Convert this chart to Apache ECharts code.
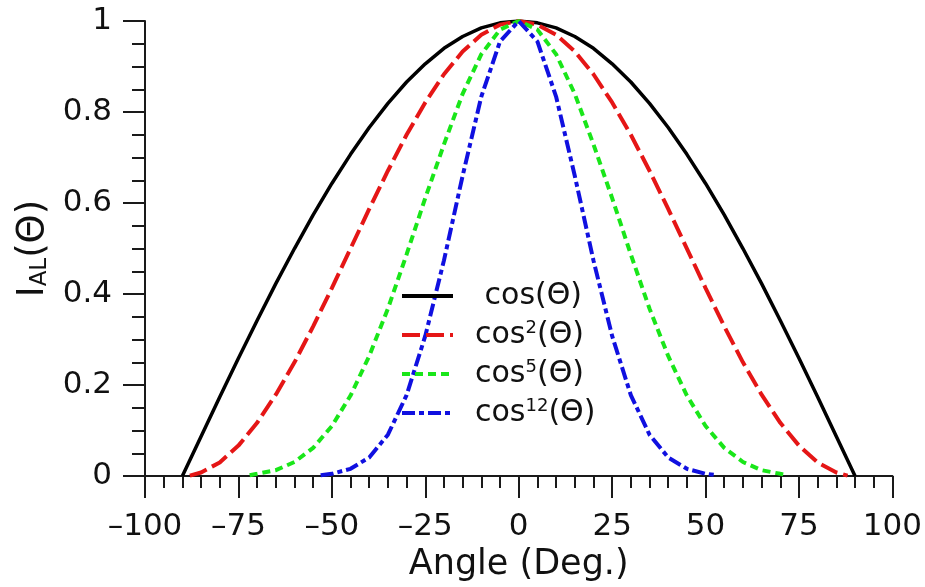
<!DOCTYPE html>
<html><head><meta charset="utf-8">
<script src="https://cdn.jsdelivr.net/npm/echarts@6/dist/echarts.min.js"></script>
<style>html,body{margin:0;padding:0;background:#fff}#c{width:925px;height:587px}</style>
</head><body><div id="c"></div>
<script>
// angles (deg) and values
const xCos1 = [-90,-85,-80,-75,-70,-65,-60,-55,-50,-45,-40,-35,-30,-25,-20,-15,-10,-5,0,5,10,15,20,25,30,35,40,45,50,55,60,65,70,75,80,85,90];
const yCos1 = [0,0.087,0.174,0.259,0.342,0.423,0.5,0.574,0.643,0.707,0.766,0.819,0.866,0.906,0.94,0.966,0.985,0.996,1,0.996,0.985,0.966,0.94,0.906,0.866,0.819,0.766,0.707,0.643,0.574,0.5,0.423,0.342,0.259,0.174,0.087,0];
const xCos2 = [-88,-85,-80,-75,-70,-65,-60,-55,-50,-45,-40,-35,-30,-25,-20,-15,-10,-5,0,5,10,15,20,25,30,35,40,45,50,55,60,65,70,75,80,85,88];
const yCos2 = [0.001,0.008,0.03,0.067,0.117,0.179,0.25,0.329,0.413,0.5,0.587,0.671,0.75,0.821,0.883,0.933,0.97,0.992,1,0.992,0.97,0.933,0.883,0.821,0.75,0.671,0.587,0.5,0.413,0.329,0.25,0.179,0.117,0.067,0.03,0.008,0.001];
const xCos5 = [-72,-70,-65,-60,-55,-50,-45,-40,-35,-30,-25,-20,-15,-10,-5,0,5,10,15,20,25,30,35,40,45,50,55,60,65,70,72];
const yCos5 = [0.002,0.005,0.013,0.031,0.062,0.11,0.177,0.264,0.368,0.487,0.611,0.729,0.84,0.927,0.981,1,0.981,0.927,0.84,0.729,0.611,0.487,0.368,0.264,0.177,0.11,0.062,0.031,0.013,0.005,0.002];
const xCos12 = [-53,-50,-45,-40,-35,-30,-25,-20,-15,-10,-5,0,5,10,15,20,25,30,35,40,45,50,53];
const yCos12 = [0.002,0.005,0.016,0.041,0.091,0.178,0.308,0.474,0.66,0.834,0.955,1,0.955,0.834,0.66,0.474,0.308,0.178,0.091,0.041,0.016,0.005,0.002];
const seriesNames = ['cos1','cos2','cos5','cos12'];
const xTicks = [-100,-75,-50,-25,0,25,50,75,100];
const yTicks = [0,0.2,0.4,0.6,0.8,1];

const pair = (xs, ys) => xs.map((x, i) => [x, ys[i]]);
const FONT = 'DejaVu Sans';
const axisCol = '#1a1a1a';

const legendText = {
  cos1: '{a| cos(Θ)}',
  cos2: '{a|cos}{sup|2}{a|(Θ)}',
  cos5: '{a|cos}{sup|5}{a|(Θ)}',
  cos12: '{a|cos}{sup|12}{a|(Θ)}'
};

const chart = echarts.init(document.getElementById('c'), null, {renderer: 'canvas'});
chart.setOption({
  animation: false,
  backgroundColor: '#fff',
  grid: {left: 145, right: 28, top: 21, bottom: 107, containLabel: false},
  xAxis: {
    type: 'value', min: xTicks[0], max: xTicks[xTicks.length - 1], interval: 25,
    name: 'Angle (Deg.)', nameLocation: 'middle', nameGap: 68,
    nameTextStyle: {fontFamily: FONT, fontSize: 35, color: '#111'},
    axisLine: {show: true, onZero: false, lineStyle: {color: axisCol, width: 2}},
    axisTick: {show: true, inside: false, length: 22, lineStyle: {color: axisCol, width: 2}},
    minorTick: {show: true, splitNumber: 5, length: 12, lineStyle: {color: axisCol, width: 2}},
    splitLine: {show: false},
    axisLabel: {fontFamily: FONT, fontSize: 31, color: '#111', margin: 35,
      formatter: v => String(v).replace('-', '–')}
  },
  yAxis: {
    type: 'value', min: yTicks[0], max: yTicks[yTicks.length - 1], interval: 0.2,
    name: '{a|I}{sub|AL}{a|(Θ)}', nameLocation: 'middle', nameGap: 93, nameRotate: 90,
    nameTextStyle: {fontFamily: FONT, fontSize: 37, color: '#111',
      rich: {a: {fontFamily: FONT, fontSize: 37, color: '#111'},
             sub: {fontFamily: FONT, fontSize: 23, color: '#111', verticalAlign: 'bottom', padding: [14, 0, 0, 0]}}},
    axisLine: {show: true, onZero: false, lineStyle: {color: axisCol, width: 2}},
    axisTick: {show: true, inside: false, length: 22, lineStyle: {color: axisCol, width: 2}},
    minorTick: {show: true, splitNumber: 4, length: 13, lineStyle: {color: axisCol, width: 2}},
    splitLine: {show: false},
    axisLabel: {fontFamily: FONT, fontSize: 31, color: '#111', margin: 33}
  },
  legend: {
    orient: 'vertical', left: 400, top: 281, padding: 0, itemWidth: 51, itemHeight: 14, itemGap: 8,
    data: seriesNames,
    formatter: n => legendText[n],
    itemStyle: {opacity: 0},
    lineStyle: {width: 4},
    textStyle: {fontFamily: FONT, fontSize: 30, color: '#111', padding: [0, 0, 0, 17],
      rich: {a: {fontFamily: FONT, fontSize: 30, color: '#111', lineHeight: 32},
             sup: {fontFamily: FONT, fontSize: 18, color: '#111', verticalAlign: 'top', lineHeight: 32, padding: [0, 0, 12, 0]}}}
  },
  series: [
    {name: 'cos1', type: 'line', data: pair(xCos1, yCos1), symbol: 'none', showSymbol: false,
      lineStyle: {color: '#000', width: 3.5, type: 'solid'}, itemStyle: {color: '#000'}},
    {name: 'cos2', type: 'line', data: pair(xCos2, yCos2), symbol: 'none', showSymbol: false,
      lineStyle: {color: '#e51616', width: 4, type: [18, 6]}, itemStyle: {color: '#e51616'}},
    {name: 'cos5', type: 'line', data: pair(xCos5, yCos5), symbol: 'none', showSymbol: false,
      lineStyle: {color: '#19e619', width: 4, type: [8, 5]}, itemStyle: {color: '#19e619'}},
    {name: 'cos12', type: 'line', data: pair(xCos12, yCos12), symbol: 'none', showSymbol: false,
      lineStyle: {color: '#1010e0', width: 4, type: [13, 4, 5, 4]}, itemStyle: {color: '#1010e0'}}
  ]
});
</script></body></html>
